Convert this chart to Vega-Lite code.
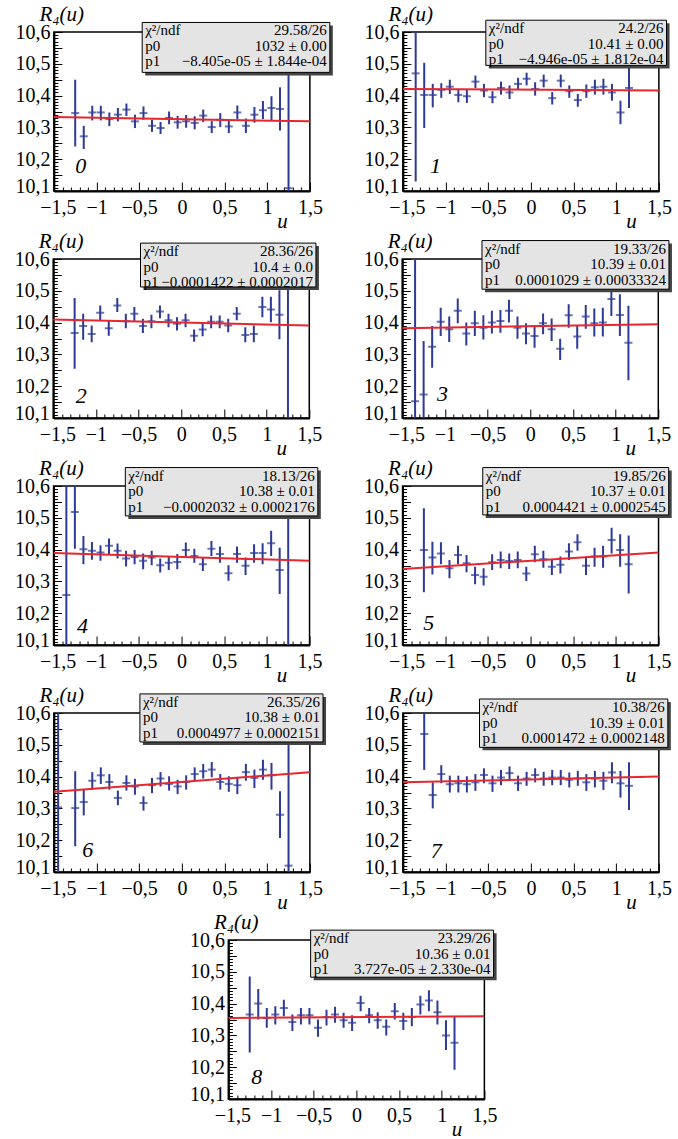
{
"$schema": "https://vega.github.io/schema/vega-lite/v6.json",
"background": "white",
"padding": {"left": 13, "top": 2, "right": 0, "bottom": 0},
"datasets": {
"pts": [
{"p":0,"u":-1.25,"r":10.345,"lo":10.24,"hi":10.45},{"p":0,"u":-1.15,"r":10.272,"lo":10.232,"hi":10.305},{"p":0,"u":-1.05,"r":10.347,"lo":10.322,"hi":10.368},{"p":0,"u":-0.95,"r":10.347,"lo":10.322,"hi":10.368},{"p":0,"u":-0.85,"r":10.326,"lo":10.304,"hi":10.347},{"p":0,"u":-0.75,"r":10.34,"lo":10.319,"hi":10.361},{"p":0,"u":-0.65,"r":10.356,"lo":10.336,"hi":10.375},{"p":0,"u":-0.55,"r":10.319,"lo":10.298,"hi":10.34},{"p":0,"u":-0.45,"r":10.345,"lo":10.324,"hi":10.366},{"p":0,"u":-0.35,"r":10.305,"lo":10.286,"hi":10.324},{"p":0,"u":-0.25,"r":10.298,"lo":10.279,"hi":10.317},{"p":0,"u":-0.15,"r":10.33,"lo":10.31,"hi":10.35},{"p":0,"u":-0.05,"r":10.316,"lo":10.296,"hi":10.336},{"p":0,"u":0.05,"r":10.319,"lo":10.299,"hi":10.339},{"p":0,"u":0.15,"r":10.314,"lo":10.294,"hi":10.335},{"p":0,"u":0.25,"r":10.337,"lo":10.317,"hi":10.356},{"p":0,"u":0.35,"r":10.301,"lo":10.282,"hi":10.32},{"p":0,"u":0.45,"r":10.324,"lo":10.301,"hi":10.345},{"p":0,"u":0.55,"r":10.303,"lo":10.282,"hi":10.324},{"p":0,"u":0.65,"r":10.347,"lo":10.325,"hi":10.369},{"p":0,"u":0.75,"r":10.305,"lo":10.282,"hi":10.328},{"p":0,"u":0.85,"r":10.34,"lo":10.315,"hi":10.364},{"p":0,"u":0.95,"r":10.354,"lo":10.326,"hi":10.383},{"p":0,"u":1.05,"r":10.361,"lo":10.323,"hi":10.398},{"p":0,"u":1.15,"r":10.358,"lo":10.29,"hi":10.426},{"p":0,"u":1.25,"r":10.109,"lo":9.5,"hi":10.75},
{"p":1,"u":-1.35,"r":10.47,"lo":10.13,"hi":10.75},{"p":1,"u":-1.25,"r":10.402,"lo":10.298,"hi":10.503},{"p":1,"u":-1.15,"r":10.402,"lo":10.363,"hi":10.437},{"p":1,"u":-1.05,"r":10.418,"lo":10.393,"hi":10.439},{"p":1,"u":-0.95,"r":10.428,"lo":10.405,"hi":10.45},{"p":1,"u":-0.85,"r":10.402,"lo":10.379,"hi":10.421},{"p":1,"u":-0.75,"r":10.398,"lo":10.377,"hi":10.418},{"p":1,"u":-0.65,"r":10.444,"lo":10.424,"hi":10.463},{"p":1,"u":-0.55,"r":10.416,"lo":10.395,"hi":10.437},{"p":1,"u":-0.45,"r":10.395,"lo":10.376,"hi":10.414},{"p":1,"u":-0.35,"r":10.424,"lo":10.403,"hi":10.444},{"p":1,"u":-0.25,"r":10.41,"lo":10.389,"hi":10.432},{"p":1,"u":-0.15,"r":10.437,"lo":10.418,"hi":10.456},{"p":1,"u":-0.05,"r":10.453,"lo":10.432,"hi":10.472},{"p":1,"u":0.05,"r":10.421,"lo":10.4,"hi":10.442},{"p":1,"u":0.15,"r":10.447,"lo":10.426,"hi":10.466},{"p":1,"u":0.25,"r":10.392,"lo":10.372,"hi":10.411},{"p":1,"u":0.35,"r":10.447,"lo":10.426,"hi":10.466},{"p":1,"u":0.45,"r":10.414,"lo":10.393,"hi":10.432},{"p":1,"u":0.55,"r":10.386,"lo":10.365,"hi":10.405},{"p":1,"u":0.65,"r":10.414,"lo":10.393,"hi":10.435},{"p":1,"u":0.75,"r":10.426,"lo":10.403,"hi":10.45},{"p":1,"u":0.85,"r":10.428,"lo":10.403,"hi":10.453},{"p":1,"u":0.95,"r":10.41,"lo":10.384,"hi":10.437},{"p":1,"u":1.05,"r":10.347,"lo":10.31,"hi":10.384},{"p":1,"u":1.15,"r":10.424,"lo":10.361,"hi":10.489},
{"p":2,"u":-1.25,"r":10.367,"lo":10.255,"hi":10.477},{"p":2,"u":-1.15,"r":10.389,"lo":10.346,"hi":10.428},{"p":2,"u":-1.05,"r":10.364,"lo":10.338,"hi":10.391},{"p":2,"u":-0.95,"r":10.431,"lo":10.407,"hi":10.454},{"p":2,"u":-0.85,"r":10.382,"lo":10.359,"hi":10.407},{"p":2,"u":-0.75,"r":10.454,"lo":10.433,"hi":10.477},{"p":2,"u":-0.65,"r":10.404,"lo":10.382,"hi":10.428},{"p":2,"u":-0.55,"r":10.428,"lo":10.403,"hi":10.449},{"p":2,"u":-0.45,"r":10.389,"lo":10.367,"hi":10.412},{"p":2,"u":-0.35,"r":10.404,"lo":10.382,"hi":10.425},{"p":2,"u":-0.25,"r":10.435,"lo":10.414,"hi":10.454},{"p":2,"u":-0.15,"r":10.407,"lo":10.385,"hi":10.428},{"p":2,"u":-0.05,"r":10.396,"lo":10.375,"hi":10.417},{"p":2,"u":0.05,"r":10.407,"lo":10.385,"hi":10.428},{"p":2,"u":0.15,"r":10.359,"lo":10.34,"hi":10.378},{"p":2,"u":0.25,"r":10.378,"lo":10.357,"hi":10.399},{"p":2,"u":0.35,"r":10.403,"lo":10.382,"hi":10.422},{"p":2,"u":0.45,"r":10.403,"lo":10.382,"hi":10.422},{"p":2,"u":0.55,"r":10.391,"lo":10.37,"hi":10.412},{"p":2,"u":0.65,"r":10.428,"lo":10.407,"hi":10.449},{"p":2,"u":0.75,"r":10.361,"lo":10.338,"hi":10.385},{"p":2,"u":0.85,"r":10.364,"lo":10.338,"hi":10.391},{"p":2,"u":0.95,"r":10.449,"lo":10.417,"hi":10.481},{"p":2,"u":1.05,"r":10.441,"lo":10.401,"hi":10.481},{"p":2,"u":1.15,"r":10.425,"lo":10.348,"hi":10.502},{"p":2,"u":1.25,"r":10.1,"lo":9.5,"hi":10.75},
{"p":3,"u":-1.35,"r":10.153,"lo":9.6,"hi":10.75},{"p":3,"u":-1.25,"r":10.174,"lo":9.9,"hi":10.342},{"p":3,"u":-1.15,"r":10.324,"lo":10.258,"hi":10.389},{"p":3,"u":-1.05,"r":10.403,"lo":10.358,"hi":10.447},{"p":3,"u":-0.95,"r":10.379,"lo":10.339,"hi":10.419},{"p":3,"u":-0.85,"r":10.437,"lo":10.398,"hi":10.476},{"p":3,"u":-0.75,"r":10.366,"lo":10.328,"hi":10.4},{"p":3,"u":-0.65,"r":10.398,"lo":10.358,"hi":10.437},{"p":3,"u":-0.55,"r":10.384,"lo":10.347,"hi":10.423},{"p":3,"u":-0.45,"r":10.4,"lo":10.366,"hi":10.437},{"p":3,"u":-0.35,"r":10.405,"lo":10.368,"hi":10.44},{"p":3,"u":-0.25,"r":10.437,"lo":10.4,"hi":10.472},{"p":3,"u":-0.15,"r":10.384,"lo":10.349,"hi":10.419},{"p":3,"u":-0.05,"r":10.366,"lo":10.332,"hi":10.398},{"p":3,"u":0.05,"r":10.358,"lo":10.321,"hi":10.392},{"p":3,"u":0.15,"r":10.398,"lo":10.363,"hi":10.429},{"p":3,"u":0.25,"r":10.379,"lo":10.342,"hi":10.413},{"p":3,"u":0.35,"r":10.318,"lo":10.282,"hi":10.349},{"p":3,"u":0.45,"r":10.423,"lo":10.384,"hi":10.458},{"p":3,"u":0.55,"r":10.356,"lo":10.318,"hi":10.39},{"p":3,"u":0.65,"r":10.419,"lo":10.381,"hi":10.455},{"p":3,"u":0.75,"r":10.398,"lo":10.356,"hi":10.444},{"p":3,"u":0.85,"r":10.4,"lo":10.356,"hi":10.447},{"p":3,"u":0.95,"r":10.474,"lo":10.421,"hi":10.516},{"p":3,"u":1.05,"r":10.424,"lo":10.358,"hi":10.489},{"p":3,"u":1.15,"r":10.337,"lo":10.219,"hi":10.453},
{"p":4,"u":-1.35,"r":10.257,"lo":9.7,"hi":10.75},{"p":4,"u":-1.25,"r":10.518,"lo":10.403,"hi":10.7},{"p":4,"u":-1.15,"r":10.401,"lo":10.354,"hi":10.443},{"p":4,"u":-1.05,"r":10.396,"lo":10.368,"hi":10.424},{"p":4,"u":-0.95,"r":10.391,"lo":10.365,"hi":10.414},{"p":4,"u":-0.85,"r":10.412,"lo":10.386,"hi":10.435},{"p":4,"u":-0.75,"r":10.396,"lo":10.372,"hi":10.419},{"p":4,"u":-0.65,"r":10.372,"lo":10.347,"hi":10.396},{"p":4,"u":-0.55,"r":10.377,"lo":10.354,"hi":10.399},{"p":4,"u":-0.45,"r":10.365,"lo":10.338,"hi":10.388},{"p":4,"u":-0.35,"r":10.375,"lo":10.351,"hi":10.396},{"p":4,"u":-0.25,"r":10.351,"lo":10.328,"hi":10.372},{"p":4,"u":-0.15,"r":10.359,"lo":10.336,"hi":10.38},{"p":4,"u":-0.05,"r":10.361,"lo":10.338,"hi":10.386},{"p":4,"u":0.05,"r":10.399,"lo":10.375,"hi":10.422},{"p":4,"u":0.15,"r":10.38,"lo":10.359,"hi":10.403},{"p":4,"u":0.25,"r":10.354,"lo":10.333,"hi":10.375},{"p":4,"u":0.35,"r":10.403,"lo":10.38,"hi":10.427},{"p":4,"u":0.45,"r":10.386,"lo":10.359,"hi":10.41},{"p":4,"u":0.55,"r":10.326,"lo":10.302,"hi":10.351},{"p":4,"u":0.65,"r":10.386,"lo":10.359,"hi":10.41},{"p":4,"u":0.75,"r":10.349,"lo":10.32,"hi":10.375},{"p":4,"u":0.85,"r":10.389,"lo":10.359,"hi":10.417},{"p":4,"u":0.95,"r":10.389,"lo":10.354,"hi":10.42},{"p":4,"u":1.05,"r":10.42,"lo":10.38,"hi":10.459},{"p":4,"u":1.15,"r":10.336,"lo":10.26,"hi":10.406},{"p":4,"u":1.25,"r":9.95,"lo":9.3,"hi":10.75},
{"p":5,"u":-1.25,"r":10.399,"lo":10.266,"hi":10.53},{"p":5,"u":-1.15,"r":10.375,"lo":10.322,"hi":10.425},{"p":5,"u":-1.05,"r":10.388,"lo":10.354,"hi":10.423},{"p":5,"u":-0.95,"r":10.341,"lo":10.31,"hi":10.367},{"p":5,"u":-0.85,"r":10.383,"lo":10.354,"hi":10.412},{"p":5,"u":-0.75,"r":10.357,"lo":10.329,"hi":10.383},{"p":5,"u":-0.65,"r":10.32,"lo":10.291,"hi":10.346},{"p":5,"u":-0.55,"r":10.315,"lo":10.287,"hi":10.341},{"p":5,"u":-0.45,"r":10.36,"lo":10.336,"hi":10.385},{"p":5,"u":-0.35,"r":10.367,"lo":10.341,"hi":10.394},{"p":5,"u":-0.25,"r":10.364,"lo":10.339,"hi":10.388},{"p":5,"u":-0.15,"r":10.367,"lo":10.341,"hi":10.394},{"p":5,"u":-0.05,"r":10.325,"lo":10.301,"hi":10.346},{"p":5,"u":0.05,"r":10.385,"lo":10.36,"hi":10.412},{"p":5,"u":0.15,"r":10.37,"lo":10.343,"hi":10.396},{"p":5,"u":0.25,"r":10.346,"lo":10.32,"hi":10.37},{"p":5,"u":0.35,"r":10.352,"lo":10.325,"hi":10.378},{"p":5,"u":0.45,"r":10.394,"lo":10.367,"hi":10.42},{"p":5,"u":0.55,"r":10.423,"lo":10.396,"hi":10.448},{"p":5,"u":0.65,"r":10.349,"lo":10.32,"hi":10.378},{"p":5,"u":0.75,"r":10.378,"lo":10.346,"hi":10.406},{"p":5,"u":0.85,"r":10.378,"lo":10.343,"hi":10.412},{"p":5,"u":0.95,"r":10.43,"lo":10.388,"hi":10.469},{"p":5,"u":1.05,"r":10.399,"lo":10.346,"hi":10.448},{"p":5,"u":1.15,"r":10.354,"lo":10.262,"hi":10.444},
{"p":6,"u":-1.45,"r":10.303,"lo":9.6,"hi":10.75},{"p":6,"u":-1.25,"r":10.301,"lo":10.181,"hi":10.417},{"p":6,"u":-1.15,"r":10.32,"lo":10.278,"hi":10.359},{"p":6,"u":-1.05,"r":10.387,"lo":10.359,"hi":10.414},{"p":6,"u":-0.95,"r":10.404,"lo":10.377,"hi":10.429},{"p":6,"u":-0.85,"r":10.383,"lo":10.359,"hi":10.408},{"p":6,"u":-0.75,"r":10.333,"lo":10.31,"hi":10.356},{"p":6,"u":-0.65,"r":10.38,"lo":10.356,"hi":10.404},{"p":6,"u":-0.55,"r":10.369,"lo":10.343,"hi":10.393},{"p":6,"u":-0.45,"r":10.317,"lo":10.293,"hi":10.338},{"p":6,"u":-0.35,"r":10.373,"lo":10.348,"hi":10.396},{"p":6,"u":-0.25,"r":10.394,"lo":10.369,"hi":10.414},{"p":6,"u":-0.15,"r":10.377,"lo":10.356,"hi":10.401},{"p":6,"u":-0.05,"r":10.369,"lo":10.345,"hi":10.39},{"p":6,"u":0.05,"r":10.383,"lo":10.359,"hi":10.404},{"p":6,"u":0.15,"r":10.408,"lo":10.387,"hi":10.429},{"p":6,"u":0.25,"r":10.417,"lo":10.394,"hi":10.44},{"p":6,"u":0.35,"r":10.422,"lo":10.398,"hi":10.446},{"p":6,"u":0.45,"r":10.383,"lo":10.359,"hi":10.408},{"p":6,"u":0.55,"r":10.377,"lo":10.352,"hi":10.401},{"p":6,"u":0.65,"r":10.373,"lo":10.345,"hi":10.396},{"p":6,"u":0.75,"r":10.414,"lo":10.387,"hi":10.44},{"p":6,"u":0.85,"r":10.396,"lo":10.364,"hi":10.422},{"p":6,"u":0.95,"r":10.422,"lo":10.39,"hi":10.453},{"p":6,"u":1.05,"r":10.404,"lo":10.359,"hi":10.443},{"p":6,"u":1.15,"r":10.28,"lo":10.207,"hi":10.354},{"p":6,"u":1.25,"r":10.12,"lo":9.6,"hi":10.75},
{"p":7,"u":-1.25,"r":10.534,"lo":10.421,"hi":10.65},{"p":7,"u":-1.15,"r":10.342,"lo":10.3,"hi":10.382},{"p":7,"u":-1.05,"r":10.408,"lo":10.379,"hi":10.436},{"p":7,"u":-0.95,"r":10.376,"lo":10.35,"hi":10.403},{"p":7,"u":-0.85,"r":10.379,"lo":10.35,"hi":10.403},{"p":7,"u":-0.75,"r":10.376,"lo":10.35,"hi":10.401},{"p":7,"u":-0.65,"r":10.382,"lo":10.355,"hi":10.408},{"p":7,"u":-0.55,"r":10.405,"lo":10.379,"hi":10.426},{"p":7,"u":-0.45,"r":10.379,"lo":10.352,"hi":10.403},{"p":7,"u":-0.35,"r":10.397,"lo":10.373,"hi":10.421},{"p":7,"u":-0.25,"r":10.411,"lo":10.387,"hi":10.432},{"p":7,"u":-0.15,"r":10.379,"lo":10.355,"hi":10.403},{"p":7,"u":-0.05,"r":10.394,"lo":10.371,"hi":10.415},{"p":7,"u":0.05,"r":10.405,"lo":10.382,"hi":10.426},{"p":7,"u":0.15,"r":10.394,"lo":10.371,"hi":10.415},{"p":7,"u":0.25,"r":10.397,"lo":10.373,"hi":10.421},{"p":7,"u":0.35,"r":10.397,"lo":10.373,"hi":10.421},{"p":7,"u":0.45,"r":10.39,"lo":10.366,"hi":10.413},{"p":7,"u":0.55,"r":10.394,"lo":10.371,"hi":10.418},{"p":7,"u":0.65,"r":10.382,"lo":10.355,"hi":10.408},{"p":7,"u":0.75,"r":10.394,"lo":10.366,"hi":10.418},{"p":7,"u":0.85,"r":10.387,"lo":10.358,"hi":10.415},{"p":7,"u":0.95,"r":10.413,"lo":10.379,"hi":10.445},{"p":7,"u":1.05,"r":10.379,"lo":10.334,"hi":10.418},{"p":7,"u":1.15,"r":10.371,"lo":10.295,"hi":10.445},
{"p":8,"u":-1.25,"r":10.366,"lo":10.246,"hi":10.485},{"p":8,"u":-1.15,"r":10.4,"lo":10.35,"hi":10.446},{"p":8,"u":-1.05,"r":10.355,"lo":10.324,"hi":10.386},{"p":8,"u":-0.95,"r":10.366,"lo":10.334,"hi":10.392},{"p":8,"u":-0.85,"r":10.386,"lo":10.36,"hi":10.412},{"p":8,"u":-0.75,"r":10.342,"lo":10.314,"hi":10.366},{"p":8,"u":-0.65,"r":10.363,"lo":10.334,"hi":10.386},{"p":8,"u":-0.55,"r":10.363,"lo":10.334,"hi":10.386},{"p":8,"u":-0.45,"r":10.324,"lo":10.296,"hi":10.35},{"p":8,"u":-0.35,"r":10.358,"lo":10.331,"hi":10.381},{"p":8,"u":-0.25,"r":10.366,"lo":10.34,"hi":10.39},{"p":8,"u":-0.15,"r":10.348,"lo":10.324,"hi":10.371},{"p":8,"u":-0.05,"r":10.34,"lo":10.314,"hi":10.363},{"p":8,"u":0.05,"r":10.402,"lo":10.376,"hi":10.425},{"p":8,"u":0.15,"r":10.363,"lo":10.338,"hi":10.386},{"p":8,"u":0.25,"r":10.348,"lo":10.321,"hi":10.373},{"p":8,"u":0.35,"r":10.327,"lo":10.3,"hi":10.35},{"p":8,"u":0.45,"r":10.376,"lo":10.35,"hi":10.402},{"p":8,"u":0.55,"r":10.345,"lo":10.317,"hi":10.371},{"p":8,"u":0.65,"r":10.358,"lo":10.329,"hi":10.386},{"p":8,"u":0.75,"r":10.397,"lo":10.366,"hi":10.425},{"p":8,"u":0.85,"r":10.41,"lo":10.376,"hi":10.442},{"p":8,"u":0.95,"r":10.373,"lo":10.334,"hi":10.41},{"p":8,"u":1.05,"r":10.3,"lo":10.254,"hi":10.348},{"p":8,"u":1.15,"r":10.277,"lo":10.192,"hi":10.36}
],
"fits": [
{"p":0,"u":-1.5,"f":10.333},{"p":0,"u":1.5,"f":10.319},
{"p":1,"u":-1.5,"f":10.421},{"p":1,"u":1.5,"f":10.416},
{"p":2,"u":-1.5,"f":10.41},{"p":2,"u":1.5,"f":10.391},
{"p":3,"u":-1.5,"f":10.382},{"p":3,"u":1.5,"f":10.395},
{"p":4,"u":-1.5,"f":10.389},{"p":4,"u":1.5,"f":10.365},
{"p":5,"u":-1.5,"f":10.339},{"p":5,"u":1.5,"f":10.391},
{"p":6,"u":-1.5,"f":10.352},{"p":6,"u":1.5,"f":10.414},
{"p":7,"u":-1.5,"f":10.382},{"p":7,"u":1.5,"f":10.4},
{"p":8,"u":-1.5,"f":10.355},{"p":8,"u":1.5,"f":10.36}
]
},
"spacing": -3,
"center": true,
"vconcat": [
{"hconcat": [
{"width": 256, "height": 159, "layer": [
{"data": {"name": "pts"}, "transform": [{"filter": "datum.p==0"}], "mark": {"type": "rule", "clip": true, "color": "#2d3a97", "strokeWidth": 2}, "encoding": {"x": {"field": "u", "type": "quantitative", "scale": {"domain": [-1.5, 1.5], "nice": false, "zero": false}, "title": "u"}, "y": {"field": "lo", "type": "quantitative", "scale": {"domain": [10.1, 10.6], "nice": false, "zero": false}, "title": "R₄(u)"}, "y2": {"field": "hi"}}},
{"data": {"name": "pts"}, "transform": [{"filter": "datum.p==0"}], "mark": {"type": "tick", "orient": "horizontal", "clip": true, "color": "#2d3a97", "thickness": 2, "size": 8}, "encoding": {"x": {"field": "u", "type": "quantitative"}, "y": {"field": "r", "type": "quantitative"}}},
{"data": {"name": "fits"}, "transform": [{"filter": "datum.p==0"}], "mark": {"type": "line", "clip": true, "color": "#e8262b", "strokeWidth": 2}, "encoding": {"x": {"field": "u", "type": "quantitative"}, "y": {"field": "f", "type": "quantitative"}}},
{"data": {"values": [{}]}, "mark": {"type": "rect", "fill": "#444444", "xOffset": 3, "x2Offset": 3, "yOffset": 3, "y2Offset": 3}, "encoding": {"x": {"datum": -0.465}, "x2": {"datum": 1.734}, "y": {"datum": 10.63}, "y2": {"datum": 10.473}}},
{"data": {"values": [{}]}, "mark": {"type": "rect", "fill": "#e4e4e4", "stroke": "black", "strokeWidth": 1}, "encoding": {"x": {"datum": -0.465}, "x2": {"datum": 1.734}, "y": {"datum": 10.63}, "y2": {"datum": 10.473}}},
{"data": {"values": [{}]}, "mark": {"type": "text", "align": "left", "baseline": "top", "dx": 3, "dy": 1, "fontSize": 15, "lineHeight": 15.5, "font": "Liberation Serif", "color": "black", "text": ["χ²/ndf", "p0", "p1"]}, "encoding": {"x": {"datum": -0.465}, "y": {"datum": 10.63}}},
{"data": {"values": [{}]}, "mark": {"type": "text", "align": "right", "baseline": "top", "dx": -3, "dy": 1, "fontSize": 15, "lineHeight": 15.5, "font": "Liberation Serif", "color": "black", "text": ["29.58/26", "1032 ± 0.00", "−8.405e-05 ± 1.844e-04"]}, "encoding": {"x": {"datum": 1.734}, "y": {"datum": 10.63}}},
{"data": {"values": [{}]}, "mark": {"type": "text", "align": "center", "baseline": "middle", "fontSize": 22, "fontStyle": "italic", "font": "Liberation Serif", "color": "black", "text": "0"}, "encoding": {"x": {"datum": -1.185}, "y": {"datum": 10.178}}}
]},
{"width": 256, "height": 159, "layer": [
{"data": {"name": "pts"}, "transform": [{"filter": "datum.p==1"}], "mark": {"type": "rule", "clip": true, "color": "#2d3a97", "strokeWidth": 2}, "encoding": {"x": {"field": "u", "type": "quantitative", "scale": {"domain": [-1.5, 1.5], "nice": false, "zero": false}, "title": "u"}, "y": {"field": "lo", "type": "quantitative", "scale": {"domain": [10.1, 10.6], "nice": false, "zero": false}, "title": "R₄(u)"}, "y2": {"field": "hi"}}},
{"data": {"name": "pts"}, "transform": [{"filter": "datum.p==1"}], "mark": {"type": "tick", "orient": "horizontal", "clip": true, "color": "#2d3a97", "thickness": 2, "size": 8}, "encoding": {"x": {"field": "u", "type": "quantitative"}, "y": {"field": "r", "type": "quantitative"}}},
{"data": {"name": "fits"}, "transform": [{"filter": "datum.p==1"}], "mark": {"type": "line", "clip": true, "color": "#e8262b", "strokeWidth": 2}, "encoding": {"x": {"field": "u", "type": "quantitative"}, "y": {"field": "f", "type": "quantitative"}}},
{"data": {"values": [{}]}, "mark": {"type": "rect", "fill": "#444444", "xOffset": 3, "x2Offset": 3, "yOffset": 3, "y2Offset": 3}, "encoding": {"x": {"datum": -0.528}, "x2": {"datum": 1.59}, "y": {"datum": 10.637}, "y2": {"datum": 10.495}}},
{"data": {"values": [{}]}, "mark": {"type": "rect", "fill": "#e4e4e4", "stroke": "black", "strokeWidth": 1}, "encoding": {"x": {"datum": -0.528}, "x2": {"datum": 1.59}, "y": {"datum": 10.637}, "y2": {"datum": 10.495}}},
{"data": {"values": [{}]}, "mark": {"type": "text", "align": "left", "baseline": "top", "dx": 3, "dy": 1, "fontSize": 15, "lineHeight": 15.5, "font": "Liberation Serif", "color": "black", "text": ["χ²/ndf", "p0", "p1"]}, "encoding": {"x": {"datum": -0.528}, "y": {"datum": 10.637}}},
{"data": {"values": [{}]}, "mark": {"type": "text", "align": "right", "baseline": "top", "dx": -3, "dy": 1, "fontSize": 15, "lineHeight": 15.5, "font": "Liberation Serif", "color": "black", "text": ["24.2/26", "10.41 ± 0.00", "−4.946e-05 ± 1.812e-04"]}, "encoding": {"x": {"datum": 1.59}, "y": {"datum": 10.637}}},
{"data": {"values": [{}]}, "mark": {"type": "text", "align": "center", "baseline": "middle", "fontSize": 22, "fontStyle": "italic", "font": "Liberation Serif", "color": "black", "text": "1"}, "encoding": {"x": {"datum": -1.119}, "y": {"datum": 10.179}}}
]}
], "spacing": 93, "bounds": "flush"},
{"hconcat": [
{"width": 256, "height": 159, "layer": [
{"data": {"name": "pts"}, "transform": [{"filter": "datum.p==2"}], "mark": {"type": "rule", "clip": true, "color": "#2d3a97", "strokeWidth": 2}, "encoding": {"x": {"field": "u", "type": "quantitative", "scale": {"domain": [-1.5, 1.5], "nice": false, "zero": false}, "title": "u"}, "y": {"field": "lo", "type": "quantitative", "scale": {"domain": [10.1, 10.6], "nice": false, "zero": false}, "title": "R₄(u)"}, "y2": {"field": "hi"}}},
{"data": {"name": "pts"}, "transform": [{"filter": "datum.p==2"}], "mark": {"type": "tick", "orient": "horizontal", "clip": true, "color": "#2d3a97", "thickness": 2, "size": 8}, "encoding": {"x": {"field": "u", "type": "quantitative"}, "y": {"field": "r", "type": "quantitative"}}},
{"data": {"name": "fits"}, "transform": [{"filter": "datum.p==2"}], "mark": {"type": "line", "clip": true, "color": "#e8262b", "strokeWidth": 2}, "encoding": {"x": {"field": "u", "type": "quantitative"}, "y": {"field": "f", "type": "quantitative"}}},
{"data": {"values": [{}]}, "mark": {"type": "rect", "fill": "#444444", "xOffset": 3, "x2Offset": 3, "yOffset": 3, "y2Offset": 3}, "encoding": {"x": {"datum": -0.478}, "x2": {"datum": 1.578}, "y": {"datum": 10.65}, "y2": {"datum": 10.512}}},
{"data": {"values": [{}]}, "mark": {"type": "rect", "fill": "#e4e4e4", "stroke": "black", "strokeWidth": 1}, "encoding": {"x": {"datum": -0.478}, "x2": {"datum": 1.578}, "y": {"datum": 10.65}, "y2": {"datum": 10.512}}},
{"data": {"values": [{}]}, "mark": {"type": "text", "align": "left", "baseline": "top", "dx": 3, "dy": 1, "fontSize": 15, "lineHeight": 15.5, "font": "Liberation Serif", "color": "black", "text": ["χ²/ndf", "p0", "p1"]}, "encoding": {"x": {"datum": -0.478}, "y": {"datum": 10.65}}},
{"data": {"values": [{}]}, "mark": {"type": "text", "align": "right", "baseline": "top", "dx": -3, "dy": 1, "fontSize": 15, "lineHeight": 15.5, "font": "Liberation Serif", "color": "black", "text": ["28.36/26", "10.4 ± 0.0", "−0.0001422 ± 0.0002017"]}, "encoding": {"x": {"datum": 1.578}, "y": {"datum": 10.65}}},
{"data": {"values": [{}]}, "mark": {"type": "text", "align": "center", "baseline": "middle", "fontSize": 22, "fontStyle": "italic", "font": "Liberation Serif", "color": "black", "text": "2"}, "encoding": {"x": {"datum": -1.172}, "y": {"datum": 10.169}}}
]},
{"width": 256, "height": 159, "layer": [
{"data": {"name": "pts"}, "transform": [{"filter": "datum.p==3"}], "mark": {"type": "rule", "clip": true, "color": "#2d3a97", "strokeWidth": 2}, "encoding": {"x": {"field": "u", "type": "quantitative", "scale": {"domain": [-1.5, 1.5], "nice": false, "zero": false}, "title": "u"}, "y": {"field": "lo", "type": "quantitative", "scale": {"domain": [10.1, 10.6], "nice": false, "zero": false}, "title": "R₄(u)"}, "y2": {"field": "hi"}}},
{"data": {"name": "pts"}, "transform": [{"filter": "datum.p==3"}], "mark": {"type": "tick", "orient": "horizontal", "clip": true, "color": "#2d3a97", "thickness": 2, "size": 8}, "encoding": {"x": {"field": "u", "type": "quantitative"}, "y": {"field": "r", "type": "quantitative"}}},
{"data": {"name": "fits"}, "transform": [{"filter": "datum.p==3"}], "mark": {"type": "line", "clip": true, "color": "#e8262b", "strokeWidth": 2}, "encoding": {"x": {"field": "u", "type": "quantitative"}, "y": {"field": "f", "type": "quantitative"}}},
{"data": {"values": [{}]}, "mark": {"type": "rect", "fill": "#444444", "xOffset": 3, "x2Offset": 3, "yOffset": 3, "y2Offset": 3}, "encoding": {"x": {"datum": -0.566}, "x2": {"datum": 1.625}, "y": {"datum": 10.658}, "y2": {"datum": 10.505}}},
{"data": {"values": [{}]}, "mark": {"type": "rect", "fill": "#e4e4e4", "stroke": "black", "strokeWidth": 1}, "encoding": {"x": {"datum": -0.566}, "x2": {"datum": 1.625}, "y": {"datum": 10.658}, "y2": {"datum": 10.505}}},
{"data": {"values": [{}]}, "mark": {"type": "text", "align": "left", "baseline": "top", "dx": 3, "dy": 1, "fontSize": 15, "lineHeight": 15.5, "font": "Liberation Serif", "color": "black", "text": ["χ²/ndf", "p0", "p1"]}, "encoding": {"x": {"datum": -0.566}, "y": {"datum": 10.658}}},
{"data": {"values": [{}]}, "mark": {"type": "text", "align": "right", "baseline": "top", "dx": -3, "dy": 1, "fontSize": 15, "lineHeight": 15.5, "font": "Liberation Serif", "color": "black", "text": ["19.33/26", "10.39 ± 0.01", "0.0001029 ± 0.00033324"]}, "encoding": {"x": {"datum": 1.625}, "y": {"datum": 10.658}}},
{"data": {"values": [{}]}, "mark": {"type": "text", "align": "center", "baseline": "middle", "fontSize": 22, "fontStyle": "italic", "font": "Liberation Serif", "color": "black", "text": "3"}, "encoding": {"x": {"datum": -1.029}, "y": {"datum": 10.174}}}
]}
], "spacing": 93, "bounds": "flush"},
{"hconcat": [
{"width": 256, "height": 159, "layer": [
{"data": {"name": "pts"}, "transform": [{"filter": "datum.p==4"}], "mark": {"type": "rule", "clip": true, "color": "#2d3a97", "strokeWidth": 2}, "encoding": {"x": {"field": "u", "type": "quantitative", "scale": {"domain": [-1.5, 1.5], "nice": false, "zero": false}, "title": "u"}, "y": {"field": "lo", "type": "quantitative", "scale": {"domain": [10.1, 10.6], "nice": false, "zero": false}, "title": "R₄(u)"}, "y2": {"field": "hi"}}},
{"data": {"name": "pts"}, "transform": [{"filter": "datum.p==4"}], "mark": {"type": "tick", "orient": "horizontal", "clip": true, "color": "#2d3a97", "thickness": 2, "size": 8}, "encoding": {"x": {"field": "u", "type": "quantitative"}, "y": {"field": "r", "type": "quantitative"}}},
{"data": {"name": "fits"}, "transform": [{"filter": "datum.p==4"}], "mark": {"type": "line", "clip": true, "color": "#e8262b", "strokeWidth": 2}, "encoding": {"x": {"field": "u", "type": "quantitative"}, "y": {"field": "f", "type": "quantitative"}}},
{"data": {"values": [{}]}, "mark": {"type": "rect", "fill": "#444444", "xOffset": 3, "x2Offset": 3, "yOffset": 3, "y2Offset": 3}, "encoding": {"x": {"datum": -0.659}, "x2": {"datum": 1.597}, "y": {"datum": 10.658}, "y2": {"datum": 10.506}}},
{"data": {"values": [{}]}, "mark": {"type": "rect", "fill": "#e4e4e4", "stroke": "black", "strokeWidth": 1}, "encoding": {"x": {"datum": -0.659}, "x2": {"datum": 1.597}, "y": {"datum": 10.658}, "y2": {"datum": 10.506}}},
{"data": {"values": [{}]}, "mark": {"type": "text", "align": "left", "baseline": "top", "dx": 3, "dy": 1, "fontSize": 15, "lineHeight": 15.5, "font": "Liberation Serif", "color": "black", "text": ["χ²/ndf", "p0", "p1"]}, "encoding": {"x": {"datum": -0.659}, "y": {"datum": 10.658}}},
{"data": {"values": [{}]}, "mark": {"type": "text", "align": "right", "baseline": "top", "dx": -3, "dy": 1, "fontSize": 15, "lineHeight": 15.5, "font": "Liberation Serif", "color": "black", "text": ["18.13/26", "10.38 ± 0.01", "−0.0002032 ± 0.0002176"]}, "encoding": {"x": {"datum": 1.597}, "y": {"datum": 10.658}}},
{"data": {"values": [{}]}, "mark": {"type": "text", "align": "center", "baseline": "middle", "fontSize": 22, "fontStyle": "italic", "font": "Liberation Serif", "color": "black", "text": "4"}, "encoding": {"x": {"datum": -1.16}, "y": {"datum": 10.161}}}
]},
{"width": 256, "height": 159, "layer": [
{"data": {"name": "pts"}, "transform": [{"filter": "datum.p==5"}], "mark": {"type": "rule", "clip": true, "color": "#2d3a97", "strokeWidth": 2}, "encoding": {"x": {"field": "u", "type": "quantitative", "scale": {"domain": [-1.5, 1.5], "nice": false, "zero": false}, "title": "u"}, "y": {"field": "lo", "type": "quantitative", "scale": {"domain": [10.1, 10.6], "nice": false, "zero": false}, "title": "R₄(u)"}, "y2": {"field": "hi"}}},
{"data": {"name": "pts"}, "transform": [{"filter": "datum.p==5"}], "mark": {"type": "tick", "orient": "horizontal", "clip": true, "color": "#2d3a97", "thickness": 2, "size": 8}, "encoding": {"x": {"field": "u", "type": "quantitative"}, "y": {"field": "r", "type": "quantitative"}}},
{"data": {"name": "fits"}, "transform": [{"filter": "datum.p==5"}], "mark": {"type": "line", "clip": true, "color": "#e8262b", "strokeWidth": 2}, "encoding": {"x": {"field": "u", "type": "quantitative"}, "y": {"field": "f", "type": "quantitative"}}},
{"data": {"values": [{}]}, "mark": {"type": "rect", "fill": "#444444", "xOffset": 3, "x2Offset": 3, "yOffset": 3, "y2Offset": 3}, "encoding": {"x": {"datum": -0.56}, "x2": {"datum": 1.619}, "y": {"datum": 10.658}, "y2": {"datum": 10.509}}},
{"data": {"values": [{}]}, "mark": {"type": "rect", "fill": "#e4e4e4", "stroke": "black", "strokeWidth": 1}, "encoding": {"x": {"datum": -0.56}, "x2": {"datum": 1.619}, "y": {"datum": 10.658}, "y2": {"datum": 10.509}}},
{"data": {"values": [{}]}, "mark": {"type": "text", "align": "left", "baseline": "top", "dx": 3, "dy": 1, "fontSize": 15, "lineHeight": 15.5, "font": "Liberation Serif", "color": "black", "text": ["χ²/ndf", "p0", "p1"]}, "encoding": {"x": {"datum": -0.56}, "y": {"datum": 10.658}}},
{"data": {"values": [{}]}, "mark": {"type": "text", "align": "right", "baseline": "top", "dx": -3, "dy": 1, "fontSize": 15, "lineHeight": 15.5, "font": "Liberation Serif", "color": "black", "text": ["19.85/26", "10.37 ± 0.01", "0.0004421 ± 0.0002545"]}, "encoding": {"x": {"datum": 1.619}, "y": {"datum": 10.658}}},
{"data": {"values": [{}]}, "mark": {"type": "text", "align": "center", "baseline": "middle", "fontSize": 22, "fontStyle": "italic", "font": "Liberation Serif", "color": "black", "text": "5"}, "encoding": {"x": {"datum": -1.192}, "y": {"datum": 10.168}}}
]}
], "spacing": 93, "bounds": "flush"},
{"hconcat": [
{"width": 256, "height": 159, "layer": [
{"data": {"name": "pts"}, "transform": [{"filter": "datum.p==6"}], "mark": {"type": "rule", "clip": true, "color": "#2d3a97", "strokeWidth": 2}, "encoding": {"x": {"field": "u", "type": "quantitative", "scale": {"domain": [-1.5, 1.5], "nice": false, "zero": false}, "title": "u"}, "y": {"field": "lo", "type": "quantitative", "scale": {"domain": [10.1, 10.6], "nice": false, "zero": false}, "title": "R₄(u)"}, "y2": {"field": "hi"}}},
{"data": {"name": "pts"}, "transform": [{"filter": "datum.p==6"}], "mark": {"type": "tick", "orient": "horizontal", "clip": true, "color": "#2d3a97", "thickness": 2, "size": 8}, "encoding": {"x": {"field": "u", "type": "quantitative"}, "y": {"field": "r", "type": "quantitative"}}},
{"data": {"name": "fits"}, "transform": [{"filter": "datum.p==6"}], "mark": {"type": "line", "clip": true, "color": "#e8262b", "strokeWidth": 2}, "encoding": {"x": {"field": "u", "type": "quantitative"}, "y": {"field": "f", "type": "quantitative"}}},
{"data": {"values": [{}]}, "mark": {"type": "rect", "fill": "#444444", "xOffset": 3, "x2Offset": 3, "yOffset": 3, "y2Offset": 3}, "encoding": {"x": {"datum": -0.492}, "x2": {"datum": 1.654}, "y": {"datum": 10.66}, "y2": {"datum": 10.509}}},
{"data": {"values": [{}]}, "mark": {"type": "rect", "fill": "#e4e4e4", "stroke": "black", "strokeWidth": 1}, "encoding": {"x": {"datum": -0.492}, "x2": {"datum": 1.654}, "y": {"datum": 10.66}, "y2": {"datum": 10.509}}},
{"data": {"values": [{}]}, "mark": {"type": "text", "align": "left", "baseline": "top", "dx": 3, "dy": 1, "fontSize": 15, "lineHeight": 15.5, "font": "Liberation Serif", "color": "black", "text": ["χ²/ndf", "p0", "p1"]}, "encoding": {"x": {"datum": -0.492}, "y": {"datum": 10.66}}},
{"data": {"values": [{}]}, "mark": {"type": "text", "align": "right", "baseline": "top", "dx": -3, "dy": 1, "fontSize": 15, "lineHeight": 15.5, "font": "Liberation Serif", "color": "black", "text": ["26.35/26", "10.38 ± 0.01", "0.0004977 ± 0.0002151"]}, "encoding": {"x": {"datum": 1.654}, "y": {"datum": 10.66}}},
{"data": {"values": [{}]}, "mark": {"type": "text", "align": "center", "baseline": "middle", "fontSize": 22, "fontStyle": "italic", "font": "Liberation Serif", "color": "black", "text": "6"}, "encoding": {"x": {"datum": -1.102}, "y": {"datum": 10.17}}}
]},
{"width": 256, "height": 159, "layer": [
{"data": {"name": "pts"}, "transform": [{"filter": "datum.p==7"}], "mark": {"type": "rule", "clip": true, "color": "#2d3a97", "strokeWidth": 2}, "encoding": {"x": {"field": "u", "type": "quantitative", "scale": {"domain": [-1.5, 1.5], "nice": false, "zero": false}, "title": "u"}, "y": {"field": "lo", "type": "quantitative", "scale": {"domain": [10.1, 10.6], "nice": false, "zero": false}, "title": "R₄(u)"}, "y2": {"field": "hi"}}},
{"data": {"name": "pts"}, "transform": [{"filter": "datum.p==7"}], "mark": {"type": "tick", "orient": "horizontal", "clip": true, "color": "#2d3a97", "thickness": 2, "size": 8}, "encoding": {"x": {"field": "u", "type": "quantitative"}, "y": {"field": "r", "type": "quantitative"}}},
{"data": {"name": "fits"}, "transform": [{"filter": "datum.p==7"}], "mark": {"type": "line", "clip": true, "color": "#e8262b", "strokeWidth": 2}, "encoding": {"x": {"field": "u", "type": "quantitative"}, "y": {"field": "f", "type": "quantitative"}}},
{"data": {"values": [{}]}, "mark": {"type": "rect", "fill": "#444444", "xOffset": 3, "x2Offset": 3, "yOffset": 3, "y2Offset": 3}, "encoding": {"x": {"datum": -0.602}, "x2": {"datum": 1.605}, "y": {"datum": 10.644}, "y2": {"datum": 10.492}}},
{"data": {"values": [{}]}, "mark": {"type": "rect", "fill": "#e4e4e4", "stroke": "black", "strokeWidth": 1}, "encoding": {"x": {"datum": -0.602}, "x2": {"datum": 1.605}, "y": {"datum": 10.644}, "y2": {"datum": 10.492}}},
{"data": {"values": [{}]}, "mark": {"type": "text", "align": "left", "baseline": "top", "dx": 3, "dy": 1, "fontSize": 15, "lineHeight": 15.5, "font": "Liberation Serif", "color": "black", "text": ["χ²/ndf", "p0", "p1"]}, "encoding": {"x": {"datum": -0.602}, "y": {"datum": 10.644}}},
{"data": {"values": [{}]}, "mark": {"type": "text", "align": "right", "baseline": "top", "dx": -3, "dy": 1, "fontSize": 15, "lineHeight": 15.5, "font": "Liberation Serif", "color": "black", "text": ["10.38/26", "10.39 ± 0.01", "0.0001472 ± 0.0002148"]}, "encoding": {"x": {"datum": 1.605}, "y": {"datum": 10.644}}},
{"data": {"values": [{}]}, "mark": {"type": "text", "align": "center", "baseline": "middle", "fontSize": 22, "fontStyle": "italic", "font": "Liberation Serif", "color": "black", "text": "7"}, "encoding": {"x": {"datum": -1.109}, "y": {"datum": 10.166}}}
]}
], "spacing": 93, "bounds": "flush"},
{"width": 256, "height": 159, "layer": [
{"data": {"name": "pts"}, "transform": [{"filter": "datum.p==8"}], "mark": {"type": "rule", "clip": true, "color": "#2d3a97", "strokeWidth": 2}, "encoding": {"x": {"field": "u", "type": "quantitative", "scale": {"domain": [-1.5, 1.5], "nice": false, "zero": false}, "title": "u"}, "y": {"field": "lo", "type": "quantitative", "scale": {"domain": [10.1, 10.6], "nice": false, "zero": false}, "title": "R₄(u)"}, "y2": {"field": "hi"}}},
{"data": {"name": "pts"}, "transform": [{"filter": "datum.p==8"}], "mark": {"type": "tick", "orient": "horizontal", "clip": true, "color": "#2d3a97", "thickness": 2, "size": 8}, "encoding": {"x": {"field": "u", "type": "quantitative"}, "y": {"field": "r", "type": "quantitative"}}},
{"data": {"name": "fits"}, "transform": [{"filter": "datum.p==8"}], "mark": {"type": "line", "clip": true, "color": "#e8262b", "strokeWidth": 2}, "encoding": {"x": {"field": "u", "type": "quantitative"}, "y": {"field": "f", "type": "quantitative"}}},
{"data": {"values": [{}]}, "mark": {"type": "rect", "fill": "#444444", "xOffset": 3, "x2Offset": 3, "yOffset": 3, "y2Offset": 3}, "encoding": {"x": {"datum": -0.536}, "x2": {"datum": 1.608}, "y": {"datum": 10.631}, "y2": {"datum": 10.483}}},
{"data": {"values": [{}]}, "mark": {"type": "rect", "fill": "#e4e4e4", "stroke": "black", "strokeWidth": 1}, "encoding": {"x": {"datum": -0.536}, "x2": {"datum": 1.608}, "y": {"datum": 10.631}, "y2": {"datum": 10.483}}},
{"data": {"values": [{}]}, "mark": {"type": "text", "align": "left", "baseline": "top", "dx": 3, "dy": 1, "fontSize": 15, "lineHeight": 15.5, "font": "Liberation Serif", "color": "black", "text": ["χ²/ndf", "p0", "p1"]}, "encoding": {"x": {"datum": -0.536}, "y": {"datum": 10.631}}},
{"data": {"values": [{}]}, "mark": {"type": "text", "align": "right", "baseline": "top", "dx": -3, "dy": 1, "fontSize": 15, "lineHeight": 15.5, "font": "Liberation Serif", "color": "black", "text": ["23.29/26", "10.36 ± 0.01", "3.727e-05 ± 2.330e-04"]}, "encoding": {"x": {"datum": 1.608}, "y": {"datum": 10.631}}},
{"data": {"values": [{}]}, "mark": {"type": "text", "align": "center", "baseline": "middle", "fontSize": 22, "fontStyle": "italic", "font": "Liberation Serif", "color": "black", "text": "8"}, "encoding": {"x": {"datum": -1.167}, "y": {"datum": 10.168}}}
]}
],
"config": {
"view": {"stroke": "black", "strokeWidth": 1.5},
"font": "Liberation Serif",
"axis": {
"domainColor": "black", "domainWidth": 2,
"tickColor": "black", "tickWidth": 1,
"labelFont": "Liberation Serif", "labelFontSize": 20, "labelColor": "black",
"titleFont": "Liberation Serif", "titleFontSize": 21, "titleFontStyle": "italic", "titleFontWeight": "normal", "titleColor": "black",
"grid": true, "gridColor": "#8c8c8c", "gridDash": [2, 2], "gridWidth": 1,
"labelOverlap": false, "labelBound": false, "labelFlush": false
},
"axisX": {
"tickCount": 30,
"tickSize": {"condition": {"test": "abs(datum.value*2-round(datum.value*2))<0.001", "value": -9}, "value": -4},
"gridOpacity": {"condition": {"test": "abs(datum.value*2-round(datum.value*2))<0.001", "value": 1}, "value": 0},
"labelExpr": "abs(datum.value*2-round(datum.value*2))<0.001 ? replace(format(datum.value, '~g'), '.', ',') : ''",
"labelOffset": {"condition": {"test": "datum.value < -1.45", "value": 4}, "value": 0},
"labelPadding": 15,
"titleX": 228, "titleY": 36, "titleAlign": "center", "titleBaseline": "alphabetic"
},
"axisY": {
"tickCount": 50,
"tickSize": {"condition": {"test": "abs(datum.value*20-round(datum.value*20))<0.001", "value": -8}, "value": -4},
"gridOpacity": {"condition": {"test": "abs(datum.value*20-round(datum.value*20))<0.001", "value": 1}, "value": 0},
"labelExpr": "abs(datum.value*10-round(datum.value*10))<0.001 ? replace(format(datum.value, '.1f'), '.', ',') : ''",
"labelOffset": {"condition": {"test": "datum.value < 10.105", "value": -5}, "value": 0},
"labelPadding": 12,
"titleAngle": 0, "titleAlign": "left", "titleBaseline": "alphabetic", "titleX": -15, "titleY": -12
}
}
}
